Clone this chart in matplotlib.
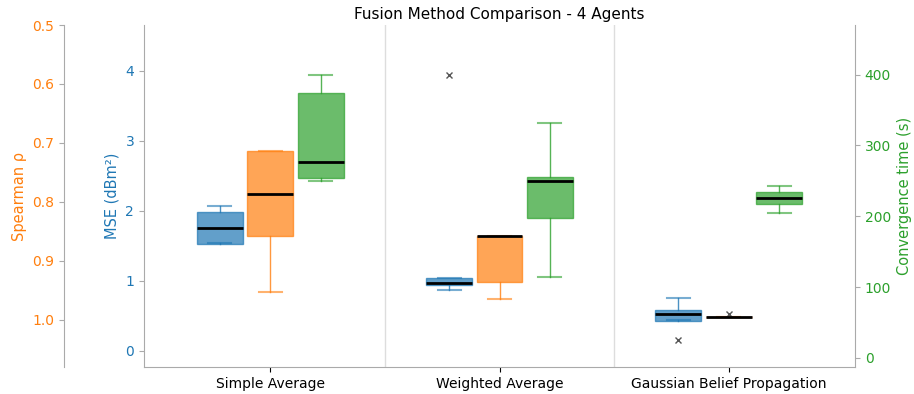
import matplotlib
matplotlib.use("Agg")
import matplotlib.pyplot as plt

# Box statistics
methods = ["Simple Average", "Weighted Average", "Gaussian Belief Propagation"]

# MSE (dBm^2): whislo, q1, med, q3, whishi, outliers
mse_whislo = [1.54, 0.87, 0.44]
mse_q1 = [1.53, 0.94, 0.43]
mse_med = [1.76, 0.975, 0.52]
mse_q3 = [1.98, 1.04, 0.59]
mse_whishi = [2.07, 1.04, 0.75]
mse_fliers = [[], [3.93], [0.15]]

# Spearman rho
rho_whislo = [0.714, 0.857, 0.995]
rho_q1 = [0.714, 0.857, 0.995]
rho_med = [0.786, 0.857, 0.995]
rho_q3 = [0.858, 0.935, 0.995]
rho_whishi = [0.952, 0.965, 0.995]
rho_fliers = [[], [], [0.99]]

# Convergence time (s)
conv_whislo = [249, 114, 204]
conv_q1 = [254, 197, 217]
conv_med = [277, 250, 225]
conv_q3 = [374, 255, 234]
conv_whishi = [399, 332, 242]
conv_fliers = [[], [], []]


def make_stats(lo, q1, med, q3, hi, fl):
    return [dict(whislo=lo[i], q1=q1[i], med=med[i], q3=q3[i], whishi=hi[i], fliers=fl[i])
            for i in range(len(lo))]


fig = plt.figure(figsize=(9.14, 3.94), dpi=100)
ax = fig.add_axes([0.1575, 0.0685, 0.778, 0.868])
ax_rho = ax.twinx()
ax_conv = ax.twinx()

blue, orange, green = "#1f77b4", "#ff7f0e", "#2ca02c"
spine_col = "#aaaaaa"
x = [0, 1, 2]
off = 0.22


def draw(axis, stats, pos, col):
    axis.bxp(stats, positions=pos, widths=0.2, patch_artist=True, manage_ticks=False,
             boxprops=dict(facecolor=col, edgecolor=col, alpha=0.7, linewidth=1),
             whiskerprops=dict(color=col, alpha=0.8, linewidth=1),
             capprops=dict(color=col, alpha=0.6, linewidth=1.5),
             medianprops=dict(color="black", linewidth=2),
             flierprops=dict(marker="x", markersize=4, markeredgecolor="#555555"))


draw(ax, make_stats(mse_whislo, mse_q1, mse_med, mse_q3, mse_whishi, mse_fliers),
     [p - off for p in x], blue)
draw(ax_rho, make_stats(rho_whislo, rho_q1, rho_med, rho_q3, rho_whishi, rho_fliers),
     x, orange)
draw(ax_conv, make_stats(conv_whislo, conv_q1, conv_med, conv_q3, conv_whishi, conv_fliers),
     [p + off for p in x], green)

ax.set_xlim(-0.55, 2.55)
ax.set_xticks(x)
ax.set_xticklabels(methods, fontsize=10)
for sep in [0.5, 1.5]:
    ax.axvline(sep, color="#dddddd", linewidth=1, zorder=0)

# MSE axis
ax.set_ylim(-0.23, 4.65)
ax.set_yticks([0, 1, 2, 3, 4])
ax.set_ylabel("MSE (dBm²)", color=blue, fontsize=10.5)
ax.tick_params(axis="y", colors=spine_col, labelcolor=blue, labelsize=10)

# Spearman axis (inverted, outer left)
ax_rho.set_ylim(1.08, 0.5)
ax_rho.set_yticks([0.5, 0.6, 0.7, 0.8, 0.9, 1.0])
ax_rho.set_yticklabels(["0.5", "0.6", "0.7", "0.8", "0.9", "1.0"])
ax_rho.yaxis.set_label_position("left")
ax_rho.yaxis.set_ticks_position("left")
ax_rho.spines["left"].set_position(("outward", 57.6))
ax_rho.set_ylabel("Spearman ρ", color=orange, fontsize=10.5)
ax_rho.tick_params(axis="y", colors=spine_col, labelcolor=orange, labelsize=10)

# Convergence axis (right)
ax_conv.set_ylim(-13, 470)
ax_conv.set_yticks([0, 100, 200, 300, 400])
ax_conv.set_ylabel("Convergence time (s)", color=green, fontsize=10.5)
ax_conv.tick_params(axis="y", colors=spine_col, labelcolor=green, labelsize=10)

for a in [ax, ax_rho, ax_conv]:
    a.spines["top"].set_visible(False)
    for s in a.spines.values():
        s.set_color(spine_col)
ax.spines["right"].set_visible(False)
ax_rho.spines["right"].set_visible(False)
ax_rho.spines["bottom"].set_visible(False)
ax_conv.spines["left"].set_visible(False)
ax_conv.spines["bottom"].set_visible(False)
ax.tick_params(axis="x", colors="black", labelcolor="black", labelsize=10)

ax.set_title("Fusion Method Comparison - 4 Agents", fontsize=11, pad=4.5)

fig.savefig("out.png", dpi=100)
